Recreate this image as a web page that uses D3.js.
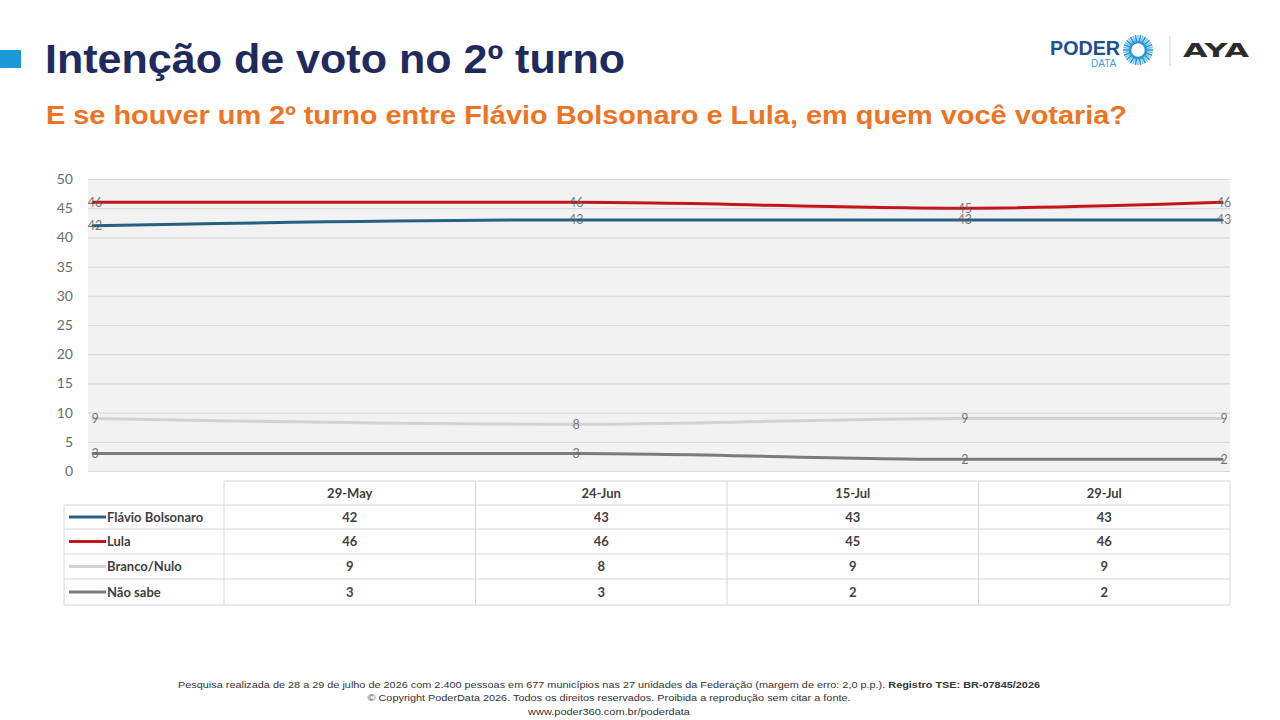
<!DOCTYPE html>
<html><head><meta charset="utf-8">
<script src="https://cdn.jsdelivr.net/npm/d3@7"></script>
<style>body{margin:0;background:#fff;}svg{display:block;}</style>
</head><body>
<svg id="chart" width="1280" height="720"></svg>
<script>
const dates = ["2026-05-29","2026-06-24","2026-07-15","2026-07-29"];
const dateLabels = ["29-May","24-Jun","15-Jul","29-Jul"];
const seriesNames = ["Flávio Bolsonaro","Lula","Branco/Nulo","Não sabe"];
const flavio = [42,43,43,43];
const lula = [46,46,45,46];
const branco = [9,8,9,9];
const naoSabe = [3,3,2,2];
const yTicks = [0,5,10,15,20,25,30,35,40,45,50];
const colors = ["#24607f","#c4161c","#d3d3d3","#7b7b7b"];
const allValues = [flavio, lula, branco, naoSabe];

const svg = d3.select("#chart");
const parse = d3.timeParse("%Y-%m-%d");
const xDates = dates.map(parse);

// Header
svg.append("rect").attr("x",0).attr("y",50).attr("width",21).attr("height",18).attr("fill","#1b9ad7");
svg.append("text").attr("x",45).attr("y",73).attr("font-family","Liberation Sans, Arial, sans-serif")
  .attr("font-weight","bold").attr("font-size",40).attr("fill","#1f2b5e")
  .attr("textLength",580).attr("lengthAdjust","spacingAndGlyphs").text("Intenção de voto no 2º turno");
svg.append("text").attr("x",46).attr("y",124).attr("font-family","Liberation Sans, Arial, sans-serif")
  .attr("font-weight","bold").attr("font-size",25).attr("fill","#ec7424")
  .attr("textLength",1081).attr("lengthAdjust","spacingAndGlyphs")
  .text("E se houver um 2º turno entre Flávio Bolsonaro e Lula, em quem você votaria?");

// Logo
const logo = svg.append("g");
logo.append("text").attr("x",1050).attr("y",55).attr("font-family","Liberation Sans, Arial, sans-serif")
  .attr("font-weight","bold").attr("font-size",21).attr("fill","#1d4f91").attr("textLength",70).attr("lengthAdjust","spacingAndGlyphs").text("PODER");
logo.append("text").attr("x",1091).attr("y",67).attr("font-family","Liberation Sans, Arial, sans-serif")
  .attr("font-size",10).attr("fill","#3aa0db").text("DATA");
const cx=1138, cy=50;
for(let i=0;i<36;i++){
  const a=i/36*2*Math.PI;
  logo.append("line").attr("x1",cx+Math.cos(a)*8).attr("y1",cy+Math.sin(a)*8)
    .attr("x2",cx+Math.cos(a)*15).attr("y2",cy+Math.sin(a)*15)
    .attr("stroke", i%2?"#7cc6ee":"#2a95d6").attr("stroke-width",1.6);
}
logo.append("circle").attr("cx",cx).attr("cy",cy).attr("r",8).attr("fill","none").attr("stroke","#2a95d6").attr("stroke-width",2.5);
logo.append("line").attr("x1",1170).attr("x2",1170).attr("y1",36).attr("y2",66).attr("stroke","#cfcfcf").attr("stroke-width",1);
logo.append("text").attr("x",1183).attr("y",57).attr("font-family","DejaVu Sans, sans-serif")
  .attr("font-weight","bold").attr("font-size",20).attr("fill","#2b2b2b").attr("textLength",66).attr("lengthAdjust","spacingAndGlyphs").text("AYA");

// Plot
const plot = {left:88, right:1230, top:179, bottom:471};
svg.append("rect").attr("x",plot.left).attr("y",plot.top).attr("width",plot.right-plot.left).attr("height",plot.bottom-plot.top).attr("fill","#f2f2f2");
const x = d3.scaleTime().domain(d3.extent(xDates)).range([93,1222]);
const y = d3.scaleLinear().domain([0,50]).range([plot.bottom,plot.top]);

const yAxis = svg.append("g").attr("transform",`translate(${plot.left},0)`)
  .call(d3.axisLeft(y).tickValues(yTicks).tickSize(-(plot.right-plot.left)).tickPadding(15));
yAxis.select(".domain").remove();
yAxis.selectAll(".tick line").attr("stroke","#dadada").attr("stroke-width",1.2);
yAxis.selectAll(".tick text").attr("fill","#6b6b6b").attr("font-size",14).attr("font-family","Lato, Open Sans, sans-serif");

const line = d3.line().x((d,i)=>x(xDates[i])).y(d=>y(d)).curve(d3.curveMonotoneX);
// draw order: branco, naoSabe, flavio, lula
[2,3,0,1].forEach(k=>{
  svg.append("path").datum(allValues[k]).attr("d",line).attr("fill","none")
    .attr("stroke",colors[k]).attr("stroke-width",3).attr("stroke-linecap","round");
});
[2,3,0,1].forEach(k=>{
  svg.append("g").selectAll("text").data(allValues[k]).join("text")
    .attr("x",(d,i)=>x(xDates[i])+2).attr("y",d=>y(d)).attr("dy","0.35em")
    .attr("text-anchor","middle").attr("font-size",12.5).attr("font-family","Lato, Open Sans, sans-serif")
    .attr("fill","#5e5e5e").attr("fill-opacity",0.85).text(d=>d);
});

// Data table
const tbl = {left:64, labelRight:224, right:1230, top:481, rowH:[24,24,25,25,26]};
const colScale = d3.scaleBand().domain(dateLabels).range([tbl.labelRight,tbl.right]);
const rowY = [tbl.top];
tbl.rowH.forEach(h=>rowY.push(rowY[rowY.length-1]+h));
const tg = svg.append("g").attr("font-family","Lato, Open Sans, sans-serif").attr("font-size",13).attr("fill","#404040");
const bc = "#d6d6d6";
tg.append("line").attr("x1",tbl.labelRight).attr("x2",tbl.right).attr("y1",rowY[0]).attr("y2",rowY[0]).attr("stroke",bc);
for(let r=1;r<rowY.length;r++){
  tg.append("line").attr("x1",tbl.left).attr("x2",tbl.right).attr("y1",rowY[r]).attr("y2",rowY[r]).attr("stroke",bc);
}
tg.append("line").attr("x1",tbl.left).attr("x2",tbl.left).attr("y1",rowY[1]).attr("y2",rowY[5]).attr("stroke",bc);
dateLabels.forEach(dl=>{
  tg.append("line").attr("x1",colScale(dl)).attr("x2",colScale(dl)).attr("y1",rowY[0]).attr("y2",rowY[5]).attr("stroke",bc);
});
tg.append("line").attr("x1",tbl.right).attr("x2",tbl.right).attr("y1",rowY[0]).attr("y2",rowY[5]).attr("stroke",bc);
tg.selectAll("text.hdr").data(dateLabels).join("text").attr("class","hdr")
  .attr("x",d=>colScale(d)+colScale.bandwidth()/2).attr("y",rowY[0]+12).attr("dy","0.35em")
  .attr("text-anchor","middle").attr("font-weight","bold").text(d=>d);
seriesNames.forEach((name,k)=>{
  const cyR = (rowY[k+1]+rowY[k+2])/2;
  tg.append("line").attr("x1",69).attr("x2",106).attr("y1",cyR).attr("y2",cyR).attr("stroke",colors[k]).attr("stroke-width",3);
  tg.append("text").attr("x",107).attr("y",cyR).attr("dy","0.35em").attr("font-weight","bold").text(name);
  tg.selectAll(null).data(allValues[k]).join("text")
    .attr("x",(d,i)=>colScale(dateLabels[i])+colScale.bandwidth()/2).attr("y",cyR).attr("dy","0.35em")
    .attr("text-anchor","middle").attr("font-weight","bold").text(d=>d);
});

// Footer
const ft = svg.append("g").attr("font-family","Liberation Sans Narrow, Liberation Sans, Arial, sans-serif").attr("font-size",9).attr("fill","#333").attr("text-anchor","middle");
const f1 = ft.append("text").attr("x",609).attr("y",688).attr("textLength",862).attr("lengthAdjust","spacingAndGlyphs");
f1.append("tspan").text("Pesquisa realizada de 28 a 29 de julho de 2026 com 2.400 pessoas em 677 municípios nas 27 unidades da Federação (margem de erro: 2,0 p.p.). ");
f1.append("tspan").attr("font-weight","bold").text("Registro TSE: BR-07845/2026");
ft.append("text").attr("x",609).attr("y",701).attr("textLength",483).attr("lengthAdjust","spacingAndGlyphs")
  .text("© Copyright PoderData 2026. Todos os direitos reservados. Proibida a reprodução sem citar a fonte.");
ft.append("text").attr("x",609).attr("y",715).attr("textLength",162).attr("lengthAdjust","spacingAndGlyphs")
  .text("www.poder360.com.br/poderdata");
</script>
</body></html>
